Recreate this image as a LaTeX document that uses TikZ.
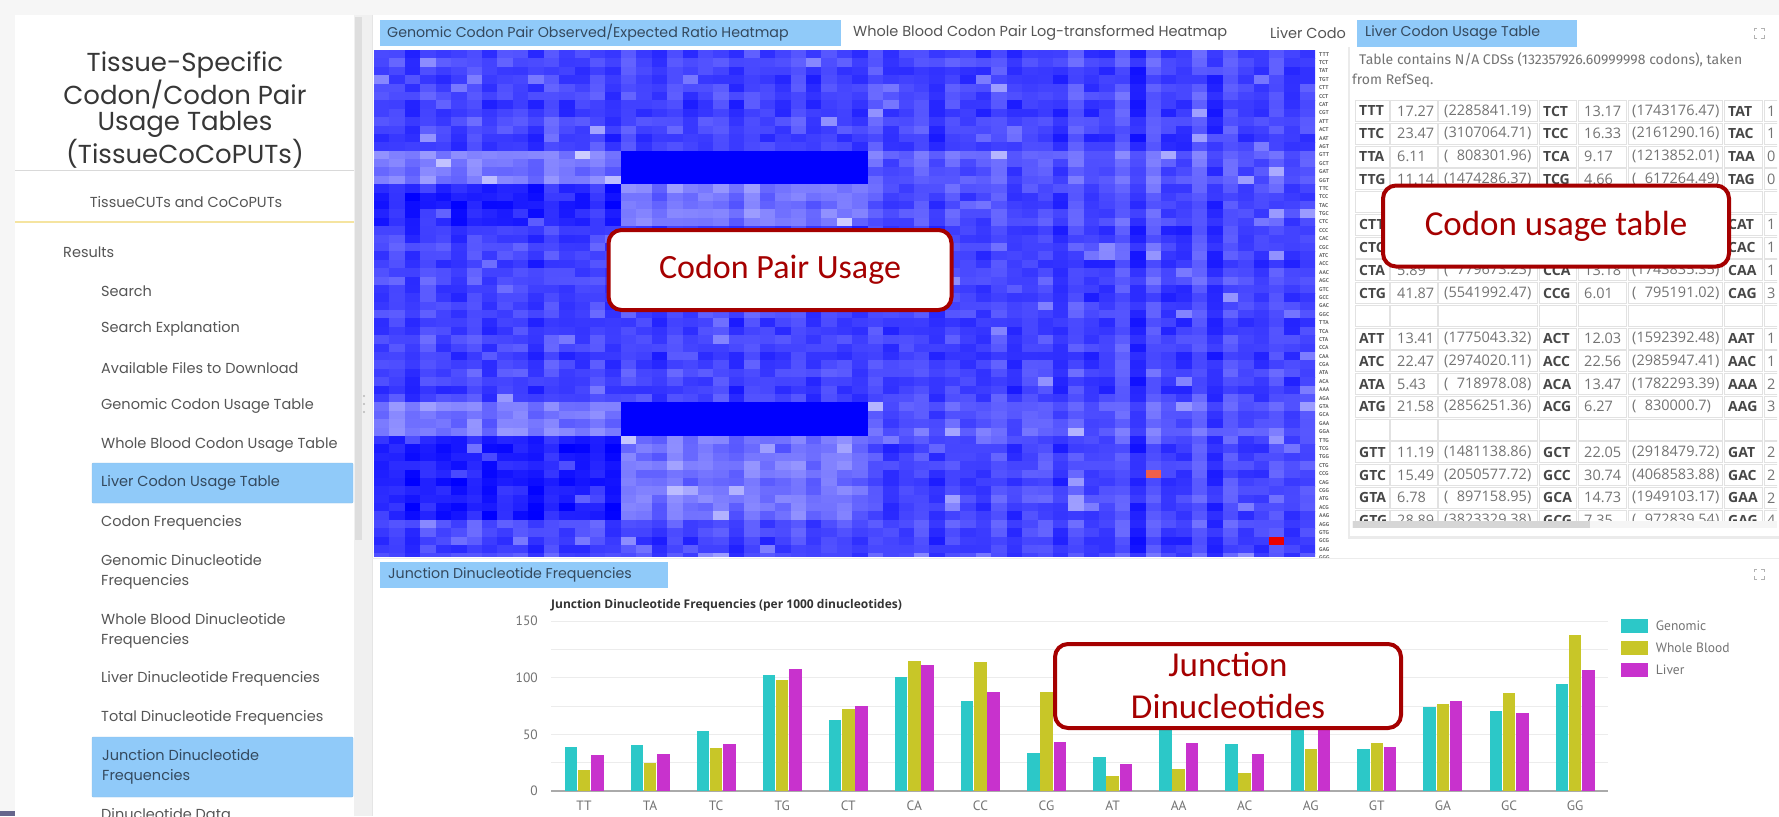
\documentclass[tikz,border=0pt]{standalone}
\usepackage{fontspec}
\usetikzlibrary{positioning}

\newfontfamily\uifont{Poppins}
\newfontfamily\tabfont{Open Sans}
\newfontfamily\notefont{Fira Sans}
\newfontfamily\callfont{Carlito}
\newfontfamily\chartfont{Open Sans}
\newfontfamily\axisfont{PT Sans}
\newcommand{\fsz}[2]{\fontsize{#1}{#2}\selectfont}

\definecolor{pagebg}{RGB}{246,246,246}
\definecolor{tabblue}{RGB}{144,202,249}
\definecolor{tabtext}{RGB}{52,73,94}
\definecolor{menutext}{RGB}{85,85,85}
\definecolor{titletext}{RGB}{55,55,55}
\definecolor{sepyellow}{RGB}{245,228,160}
\definecolor{calloutred}{RGB}{165,0,0}
\definecolor{cellline}{RGB}{226,226,226}
\definecolor{gencyan}{RGB}{44,200,200}
\definecolor{bloodyel}{RGB}{200,198,40}
\definecolor{livermag}{RGB}{200,50,205}
\definecolor{gridgray}{RGB}{236,236,236}
\definecolor{axisgray}{RGB}{170,170,170}
\definecolor{hmorange}{RGB}{240,95,75}
\definecolor{hmred}{RGB}{235,0,0}

\tikzset{
    sidetitle/.style={text=titletext,font=\uifont\fsz{26}{26.5},align=center,inner sep=0pt},
    menuitem/.style={anchor=west,text=menutext,font=\uifont\fsz{14.5}{20},align=left,inner sep=0pt},
    hilite/.style={fill=tabblue,draw=tabblue!85!gray,rounded corners=1pt},
    tabname/.style={anchor=west,text=tabtext,font=\uifont\fsz{14.2}{17},inner sep=0pt},
    plaintab/.style={tabname,text=menutext,font=\uifont\fsz{14.5}{17}},
    rowlab/.style={anchor=west,text=black!60,font=\axisfont\bfseries\fsz{5.6}{6},inner sep=0pt},
    tcell/.style={draw=cellline,fill=white,line width=0.8pt},
    codon/.style={anchor=west,text=black!72,font=\tabfont\bfseries\fsz{14}{16},inner sep=0pt},
    tnum/.style={anchor=west,text=black!55,font=\tabfont\fsz{14.5}{16},inner sep=0pt},
    note/.style={anchor=west,text=black!55,font=\notefont\fsz{14}{16},inner sep=0pt},
    callout/.style={draw=calloutred,line width=4pt,rounded corners=13pt,fill=white,text=calloutred,
        font=\callfont\fsz{35}{42},align=center,inner sep=0pt},
    ytick/.style={anchor=east,text=black!55,font=\axisfont\fsz{13.5}{15},inner sep=0pt},
    catlabel/.style={text=black!55,font=\axisfont\fsz{13.5}{15},inner sep=0pt},
    legsq/.style={minimum width=27pt,minimum height=14pt,inner sep=0pt},
    legtext/.style={anchor=west,text=black!55,font=\axisfont\fsz{13.5}{15},inner sep=0pt},
    expandicon/.pic={
        \draw[gray!60,line width=0.9pt] (-5,-2)--(-5,-5)--(-2,-5) (2,-5)--(5,-5)--(5,-2)
            (5,2)--(5,5)--(2,5) (-2,5)--(-5,5)--(-5,2);
    },
}

\begin{document}
\begin{tikzpicture}[x=1pt,y=-1pt]
\useasboundingbox (0,0) rectangle (1779,816);
\clip (0,0) rectangle (1779,816);
\fill[pagebg] (0,0) rectangle (1779,816);

% ---- navigation sidebar ----
\fill[white] (15,15) rectangle (354,816);
\fill[gray!12] (354,15) rectangle (372,816);
\fill[gray!26] (355,17) rectangle (362,540);
\foreach \d in {396,404,412} \fill[gray!55] (364,\d) circle (1.2);
\fill[black!75!blue!60] (0,811) rectangle (15,816);

\node[sidetitle] (title) at (185,110) {Tissue-Specific\\Codon/Codon Pair\\Usage Tables\\(TissueCoCoPUTs)};
\draw[gray!30,line width=0.8pt] (15,170) -- (354,170);
\node[menuitem,anchor=center] (cutlink) at (186,202) {TissueCUTs and CoCoPUTs};
\draw[sepyellow,line width=1.5pt] (15,222) -- (354,222);

\node[menuitem] (results) at (63,252) {Results};
\node[menuitem] (search)  at (101,291) {Search};
\node[menuitem] (explain) at (101,329) {Search Explanation};
\node[menuitem] (files)   at (101,368) {Available Files to Download};
\node[menuitem] (gencut)  at (101,406) {Genomic Codon Usage Table};
\node[menuitem] (wbcut)   at (101,445) {Whole Blood Codon Usage Table};
\draw[hilite] (92,463) rectangle (353,503);
\node[menuitem,text=tabtext] (livcut) at (101,483) {Liver Codon Usage Table};
\node[menuitem] (cfreq)   at (101,523) {Codon Frequencies};
\node[menuitem] (gendi)   at (101,572) {Genomic Dinucleotide\\Frequencies};
\node[menuitem] (wbdi)    at (101,631) {Whole Blood Dinucleotide\\Frequencies};
\node[menuitem] (livdi)   at (101,679) {Liver Dinucleotide Frequencies};
\node[menuitem] (totdi)   at (101,718) {Total Dinucleotide Frequencies};
\draw[hilite] (92,737) rectangle (353,797);
\node[menuitem,text=tabtext] (jundi) at (102,767) {Junction Dinucleotide\\Frequencies};
\node[menuitem] (didata)  at (101,814) {Dinucleotide Data};

% ---- heatmap panel ----
\fill[white] (372,15) rectangle (1779,816);
\draw[gray!20] (372,15) -- (372,816);
\fill[tabblue] (380,20) rectangle (841,46);
\node[tabname] (hmtab1) at (387,33) {Genomic Codon Pair Observed/Expected Ratio Heatmap};
\node[plaintab] (hmtab2) at (853,33) {Whole Blood Codon Pair Log-transformed Heatmap};
\node[plaintab] (hmtab3) at (1270,33) {Liver Codo};

\pgfmathsetseed{11}
\begin{scope}
\clip (374,50) rectangle (1315,556);
\foreach \r in {0,...,60}{
  \foreach \c in {0,...,60}{
    \pgfmathtruncatemacro{\bc}{\c<16 ? 0 : (\c<32 ? 1 : 2)}
    \pgfmathtruncatemacro{\band}{((\r>11 && \r<16) || (\r>41 && \r<46)) ? 1 : (((\r>15 && \r<21) || (\r>45 && \r<56)) ? 2 : 0)}
    \pgfmathsetmacro{\base}{\band==1 ? (\bc==0 ? 122 : (\bc==1 ? -400 : 90)) : (\band==2 ? (\bc==0 ? 32 : (\bc==1 ? 118 : 72)) : 68)}
    \pgfmathsetmacro{\v}{\base + 40*rnd - 20 + 16*sin(\c*137.5) + 10*sin(\r*97.3) + (\c>45 ? 15*sin(\c*211) : 0) + (rnd>0.965 ? 60 : 0)}
    \pgfmathtruncatemacro{\v}{max(0,min(205,\v))}
    \definecolor{hm}{RGB}{\v,\v,255}
    \fill[hm] ({374+15.43*\c},{50+8.39*\r}) rectangle ++(15.8,8.7);
  }
}
\fill[hmorange] ({374+15.43*50},{50+8.39*50}) rectangle ++(15.43,8.39);
\fill[hmred] ({374+15.43*58},{50+8.39*58}) rectangle ++(15.43,8.39);
\end{scope}

\begin{scope}
\clip (1316,48) rectangle (1345,559);
\foreach \lab [count=\i from 0] in {TTT,TCT,TAT,TGT,CTT,CCT,CAT,CGT,ATT,ACT,AAT,AGT,GTT,GCT,GAT,GGT,
    TTC,TCC,TAC,TGC,CTC,CCC,CAC,CGC,ATC,ACC,AAC,AGC,GTC,GCC,GAC,GGC,
    TTA,TCA,CTA,CCA,CAA,CGA,ATA,ACA,AAA,AGA,GTA,GCA,GAA,GGA,
    TTG,TCG,TGG,CTG,CCG,CAG,CGG,ATG,ACG,AAG,AGG,GTG,GCG,GAG,GGG}
  \node[rowlab] (rl\i) at (1319,{50+8.39*(\i+0.5)}) {\lab};
\end{scope}

\node[callout,minimum width=343pt,minimum height=80pt,font=\callfont\fsz{34}{40}] (pairbox) at (780,270) {Codon Pair Usage};

% ---- codon usage table panel ----
\fill[gray!16] (1348,47) rectangle (1779,539);
\fill[white] (1350,47) rectangle (1779,536);
\fill[tabblue] (1357,20) rectangle (1577,47);
\node[tabname] (cuttab) at (1365,33) {Liver Codon Usage Table};
\pic at (1759,33) {expandicon};
\node[note] (desc1) at (1359,60) {Table contains N/A CDSs (132357926.60999998 codons), taken};
\node[note] (desc2) at (1352,81) {from RefSeq.};

\begin{scope}
\clip (1350,95) rectangle (1777,521);
\foreach \r in {0,...,18}
  \foreach \x/\w in {1355/34,1390/47,1438/99,1539/37,1578/48,1628/94,1724/38,1764/40}
    \draw[tcell] (\x,{111+22.75*\r-10.4}) rectangle ++(\w,20.8);
\foreach \r/\ca/\fa/\na/\cb/\fb/\nb/\cc/\fc in {
    0/TTT/17.27/(2285841.19)/TCT/13.17/(1743176.47)/TAT/1,
    1/TTC/23.47/(3107064.71)/TCC/16.33/(2161290.16)/TAC/1,
    2/TTA/6.11/(\phantom{0}808301.96)/TCA/9.17/(1213852.01)/TAA/0,
    3/TTG/11.14/(1474286.37)/TCG/4.66/(\phantom{0}617264.49)/TAG/0,
    7/CTA/5.89/(\phantom{0}779673.23)/CCA/13.18/(1743835.35)/CAA/1,
    8/CTG/41.87/(5541992.47)/CCG/6.01/(\phantom{0}795191.02)/CAG/3,
    10/ATT/13.41/(1775043.32)/ACT/12.03/(1592392.48)/AAT/1,
    11/ATC/22.47/(2974020.11)/ACC/22.56/(2985947.41)/AAC/1,
    12/ATA/5.43/(\phantom{0}718978.08)/ACA/13.47/(1782293.39)/AAA/2,
    13/ATG/21.58/(2856251.36)/ACG/6.27/(\phantom{0}830000.7)/AAG/3,
    15/GTT/11.19/(1481138.86)/GCT/22.05/(2918479.72)/GAT/2,
    16/GTC/15.49/(2050577.72)/GCC/30.74/(4068583.88)/GAC/2,
    17/GTA/6.78/(\phantom{0}897158.95)/GCA/14.73/(1949103.17)/GAA/2,
    18/GTG/28.89/(3823329.38)/GCG/7.35/(\phantom{0}972839.54)/GAG/4}{
  \node[codon] (ca\r) at (1359,{111+22.75*\r}) {\ca};
  \node[tnum]  (fa\r) at (1397,{111+22.75*\r}) {\fa};
  \node[tnum]  (na\r) at (1444,{111+22.75*\r}) {\na};
  \node[codon] (cb\r) at (1543,{111+22.75*\r}) {\cb};
  \node[tnum]  (fb\r) at (1584,{111+22.75*\r}) {\fb};
  \node[tnum]  (nb\r) at (1632,{111+22.75*\r}) {\nb};
  \node[codon] (cc\r) at (1728,{111+22.75*\r}) {\cc};
  \node[tnum]  (fc\r) at (1767,{111+22.75*\r}) {\fc};
}
\node[codon] (ca5) at (1359,{111+22.75*5}) {CTT};
\node[codon] (cc5) at (1728,{111+22.75*5}) {CAT};
\node[tnum]  (fc5) at (1767,{111+22.75*5}) {1};
\node[codon] (ca6) at (1359,{111+22.75*6}) {CTC};
\node[codon] (cc6) at (1728,{111+22.75*6}) {CAC};
\node[tnum]  (fc6) at (1767,{111+22.75*6}) {1};
\end{scope}
\fill[gray!8] (1352,521) rectangle (1777,528);
\fill[gray!32] (1353,521) rectangle (1590,528);

\node[callout,minimum width=346pt,minimum height=81pt] (tablebox) at (1556,226) {Codon usage table};

% ---- junction dinucleotide chart ----
\draw[gray!15] (372,558) -- (1779,558);
\fill[tabblue] (380,562) rectangle (668,588);
\node[tabname] (chtab) at (388,575) {Junction Dinucleotide Frequencies};
\pic at (1759,574) {expandicon};
\node[anchor=west,text=black!80,font=\chartfont\bfseries\fsz{12}{14},inner sep=0pt] (chtitle) at (551,605)
    {Junction Dinucleotide Frequencies (per 1000 dinucleotides)};

\foreach \k in {25,50,...,150}
  \draw[gridgray,line width=1pt] (551,{791-1.1333*\k}) -- (1608,{791-1.1333*\k});
\draw[axisgray,line width=1.2pt] (551,791) -- (1608,791);
\foreach \k in {0,50,100,150}
  \node[ytick] (ytick\k) at (538,{791-1.1333*\k}) {\k};

\foreach \lab/\g/\w/\l [count=\i from 0] in {TT/38.8/18.8/32.0, TA/40.6/24.7/33.0, TC/52.6/38.2/41.8,
    TG/102.4/98.2/107.6, CT/63.0/72.6/75.3, CA/100.6/114.7/111.5, CC/79.7/114.0/87.0,
    CG/33.8/87.0/43.5, AT/29.7/12.9/24.1, AA/56.0/19.4/42.6, AC/41.8/16.2/33.0,
    AG/58.0/37.4/58.0, GT/37.0/42.6/39.1, GA/74.4/76.5/79.7, GC/70.3/86.2/68.8, GG/94.1/138.0/106.5}{
  \fill[gencyan]  ({584+66.07*\i-19.5},791) rectangle ++(12.5,{-1.1333*\g});
  \fill[bloodyel] ({584+66.07*\i-6.25},791) rectangle ++(12.5,{-1.1333*\w});
  \fill[livermag] ({584+66.07*\i+7},791)    rectangle ++(12.5,{-1.1333*\l});
  \node[catlabel] (cat\i) at ({584+66.07*\i},806) {\lab};
}

\node[legsq,fill=gencyan]  (legg) at (1634,626) {};
\node[legsq,fill=bloodyel] (legw) at (1634,648) {};
\node[legsq,fill=livermag] (legl) at (1634,670) {};
\node[legtext,right=8pt of legg] (leggt) {Genomic};
\node[legtext,right=8pt of legw] (legwt) {Whole Blood};
\node[legtext,right=8pt of legl] (leglt) {Liver};

\node[callout,minimum width=346pt,minimum height=84pt] (junctionbox) at (1228,686) {Junction\\Dinucleotides};
\end{tikzpicture}
\end{document}
